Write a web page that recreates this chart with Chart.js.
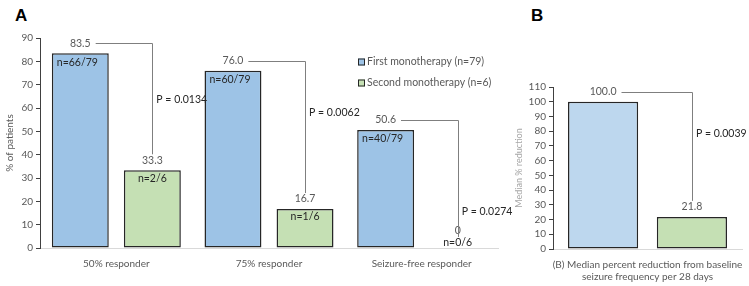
<!DOCTYPE html>
<html lang="en">
<head>
<meta charset="UTF-8">
<title>Monotherapy response</title>
<style>
  body { margin: 0; background: #fff; width: 749px; height: 286px; position: relative; overflow: hidden; }
  .panel { position: absolute; font: bold 17px "Liberation Sans", Arial, sans-serif; color: #000; }
  .box { position: absolute; top: 0; height: 286px; }
</style>
</head>
<body>
<div class="panel" style="left:15px; top:6px;">A</div>
<div class="panel" style="left:531px; top:6px;">B</div>
<div class="box" style="left:0; width:520px;"><canvas id="chartA"></canvas></div>
<div class="box" style="left:510px; width:239px;"><canvas id="chartB"></canvas></div>

<script src="https://cdn.jsdelivr.net/npm/chart.js"></script>
<script>
// ---- data ----
const categoriesA = ['50% responder', '75% responder', 'Seizure-free responder'];
const seriesNames = ['First monotherapy (n=79)', 'Second monotherapy (n=6)'];
const firstMono = [83.5, 76.0, 50.6];
const secondMono = [33.3, 16.7, 0];
const firstCounts = ['n=66/79', 'n=60/79', 'n=40/79'];
const secondCounts = ['n=2/6', 'n=1/6', 'n=0/6'];
const pValuesA = ['P = 0.0134', 'P = 0.0062', 'P = 0.0274'];
const yTicksA = { min: 0, max: 90, step: 10 };

const categoryB = [['(B) Median percent reduction from baseline', 'seizure frequency per 28 days']];
const firstMedian = [100.0];
const secondMedian = [21.8];
const pValuesB = ['P = 0.0039'];
const yTicksB = { min: 0, max: 110, step: 10 };

const FONT = 'Lato, "Open Sans", sans-serif';
const GREY = '#595959';
const DARK = '#262626';

Chart.defaults.font.family = FONT;
Chart.defaults.font.size = 10;
Chart.defaults.color = GREY;

function fmt(v) { return v === 0 ? '0' : v.toFixed(1); }

// value labels, n= labels, comparison brackets and p-values
const bracketPlugin = {
  id: 'brackets',
  afterDatasetsDraw(chart, args, opts) {
    const ctx = chart.ctx;
    const d0 = chart.data.datasets[0].data, d1 = chart.data.datasets[1].data;
    const m0 = chart.getDatasetMeta(0).data, m1 = chart.getDatasetMeta(1).data;
    ctx.save();
    ctx.font = '10.5px ' + FONT;
    ctx.textAlign = 'center';
    ctx.textBaseline = 'middle';
    m0.forEach((b0, i) => {
      const b1 = m1[i];
      // first bar
      const t0 = fmt(d0[i]);
      const ly = b0.y - 10;
      ctx.fillStyle = GREY;
      ctx.fillText(t0, b0.x, ly);
      if (opts.nFirst) { ctx.fillStyle = DARK; ctx.fillText(opts.nFirst[i], b0.x - 3, b0.y + 9); }
      // second bar
      let vy, endY;
      if (d1[i] === 0) {
        vy = b1.y - 17; endY = b1.y - 11;
        if (opts.nSecond) { ctx.fillStyle = DARK; ctx.fillText(opts.nSecond[i], b1.x, b1.y - 5); }
      } else {
        vy = b1.y - 10; endY = b1.y - 16;
        if (opts.nSecond) { ctx.fillStyle = DARK; ctx.fillText(opts.nSecond[i], b1.x, b1.y + 8); }
      }
      ctx.fillStyle = GREY;
      ctx.fillText(fmt(d1[i]), b1.x, vy);
      // bracket
      const sx = b0.x + ctx.measureText(t0).width / 2 + 5;
      ctx.strokeStyle = '#7f7f7f';
      ctx.lineWidth = 1;
      ctx.beginPath();
      ctx.moveTo(sx, Math.round(ly) + 0.5);
      ctx.lineTo(Math.round(b1.x) + 0.5, Math.round(ly) + 0.5);
      ctx.lineTo(Math.round(b1.x) + 0.5, endY);
      ctx.stroke();
      // p value
      ctx.fillStyle = DARK;
      ctx.textAlign = 'left';
      ctx.fillText(opts.p[i], b1.x + 4, ly + (endY - ly) * opts.pAt[i]);
      ctx.textAlign = 'center';
    });
    // legend
    if (opts.legendAt) {
      let [lx, lyy] = opts.legendAt;
      ctx.textAlign = 'left';
      chart.data.datasets.forEach((ds, k) => {
        const y = lyy + k * 21;
        ctx.fillStyle = ds.backgroundColor;
        ctx.fillRect(lx, y - 3.5, 7, 7);
        ctx.strokeStyle = DARK;
        ctx.strokeRect(lx + 0.5, y - 3, 6, 6);
        ctx.fillStyle = GREY;
        ctx.fillText(ds.label, lx + 9, y);
      });
    }
    ctx.restore();
  }
};

function yScale(t, title, width, titleColor, titleSize) {
  return {
    min: t.min, max: t.max,
    ticks: { stepSize: t.step, autoSkip: false, color: GREY, font: { size: 10 }, padding: 3 },
    grid: { drawOnChartArea: false, tickLength: 4, color: '#404040' },
    border: { color: '#404040', width: 1 },
    title: { display: true, text: title, color: titleColor, font: { size: titleSize }, padding: { top: 4, bottom: 0 } },
    afterFit(s) { s.width = width; }
  };
}

function xScale(height) {
  return {
    grid: { display: false },
    border: { color: '#d9d9d9', width: 1 },
    ticks: { color: GREY, font: { size: 10 }, padding: 2, maxRotation: 0, autoSkip: false },
    afterFit(s) { s.height = height; }
  };
}

new Chart(document.getElementById('chartA'), {
  type: 'bar',
  data: {
    labels: categoriesA,
    datasets: [
      { label: seriesNames[0], data: firstMono, backgroundColor: '#9dc3e6', borderColor: DARK, borderWidth: 1.5, borderSkipped: false },
      { label: seriesNames[1], data: secondMono, backgroundColor: '#c5e0b4', borderColor: DARK, borderWidth: 1.5, borderSkipped: false }
    ]
  },
  options: {
    responsive: true, maintainAspectRatio: false, animation: false,
    layout: { padding: { top: 38, right: 22, left: 0, bottom: 0 } },
    datasets: { bar: { categoryPercentage: 0.944, barPercentage: 0.79 } },
    scales: { x: xScale(38), y: yScale(yTicksA, '% of patients', 40, GREY, 10) },
    plugins: {
      legend: { display: false }, tooltip: { enabled: false },
      brackets: { nFirst: firstCounts, nSecond: secondCounts, p: pValuesA, pAt: [0.51, 0.39, 0.78], legendAt: [358, 62] }
    }
  },
  plugins: [bracketPlugin]
});

new Chart(document.getElementById('chartB'), {
  type: 'bar',
  data: {
    labels: categoryB,
    datasets: [
      { label: seriesNames[0], data: firstMedian, backgroundColor: '#bdd7ee', borderColor: DARK, borderWidth: 1.5, borderSkipped: false },
      { label: seriesNames[1], data: secondMedian, backgroundColor: '#c5e0b4', borderColor: DARK, borderWidth: 1.5, borderSkipped: false }
    ]
  },
  options: {
    responsive: true, maintainAspectRatio: false, animation: false,
    layout: { padding: { top: 87, right: 7, left: 0, bottom: 0 } },
    datasets: { bar: { categoryPercentage: 0.94, barPercentage: 0.79 } },
    scales: { x: xScale(37), y: yScale(yTicksB, 'Median % reduction', 43, '#a6a6a6', 9) },
    plugins: {
      legend: { display: false }, tooltip: { enabled: false },
      brackets: { p: pValuesB, pAt: [0.38] }
    }
  },
  plugins: [bracketPlugin]
});
</script>
</body>
</html>
